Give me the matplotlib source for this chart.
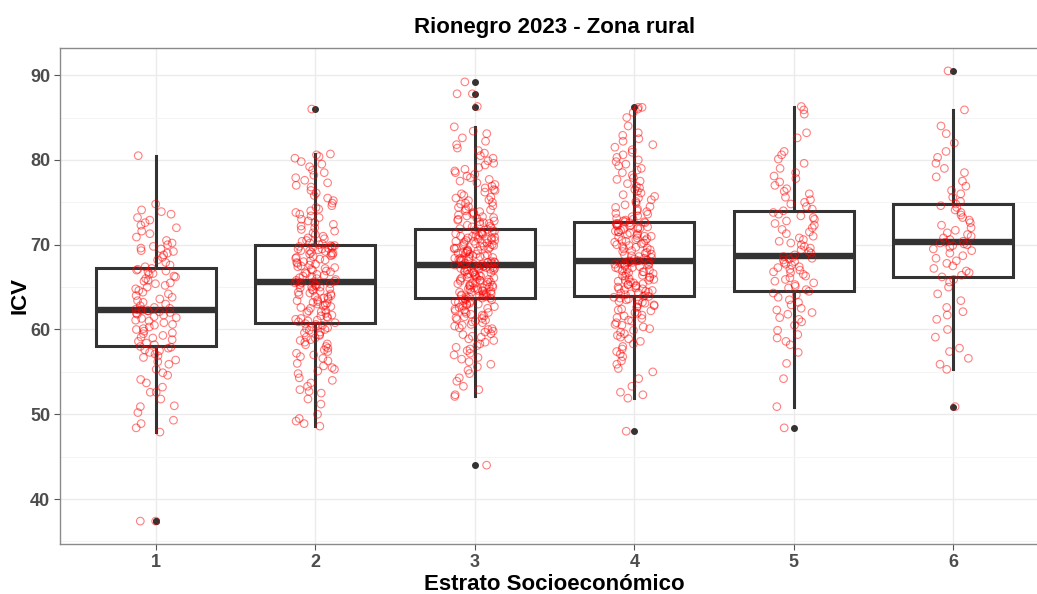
import matplotlib
matplotlib.use("Agg")
import matplotlib.pyplot as plt
import numpy as np
from matplotlib.ticker import MultipleLocator

# Estratos y valores de ICV
estratos = [1, 2, 3, 4, 5, 6]

icv_e1 = [37.4, 37.4, 47.9, 48.4, 48.9, 49.3, 50.2, 50.9, 51.0, 51.8, 52.6, 52.6, 53.2, 53.7, 54.1,
          54.6, 54.9, 55.3, 55.9, 56.2, 56.4, 56.7, 56.9, 57.1, 57.3, 57.5, 57.6, 57.8, 57.9, 58.0,
          58.2, 58.4, 58.6, 58.8, 59.0, 59.1, 59.3, 59.5, 59.6, 59.8, 60.0, 60.1, 60.3, 60.5, 60.6,
          60.8, 61.0, 61.1, 61.3, 61.4, 61.5, 61.7, 61.8, 61.9, 62.0, 62.1, 62.2, 62.2, 62.3, 62.3,
          62.4, 62.5, 62.6, 62.8, 63.0, 63.2, 63.4, 63.6, 63.8, 64.0, 64.2, 64.4, 64.6, 64.8, 65.0,
          65.2, 65.4, 65.5, 65.7, 65.8, 66.0, 66.2, 66.3, 66.5, 66.6, 66.8, 66.9, 67.0, 67.1, 67.2,
          67.4, 67.6, 67.9, 68.2, 68.5, 68.8, 69.0, 69.2, 69.3, 69.5, 69.6, 69.8, 70.0, 70.2, 70.5,
          70.9, 71.3, 71.6, 72.0, 72.3, 72.6, 72.9, 73.2, 73.6, 73.9, 74.1, 74.8, 80.5]

icv_e2 = [48.6, 48.9, 49.2, 49.5, 50.0, 51.2, 51.8, 52.5, 52.7, 52.9, 53.3, 53.7, 54.0, 54.3, 54.8,
          55.1, 55.3, 55.5, 55.7, 56.0, 56.3, 56.6, 56.8, 57.0, 57.2, 57.4, 57.6, 57.8, 58.0, 58.2,
          58.3, 58.5, 58.7, 58.8, 59.0, 59.1, 59.3, 59.4, 59.6, 59.7, 59.9, 60.0, 60.1, 60.2, 60.3,
          60.4, 60.5, 60.6, 60.7, 60.8,
          60.9, 61.0, 61.1, 61.2, 61.3, 61.4, 61.5, 61.6, 61.7, 61.9, 62.0, 62.1, 62.2, 62.3, 62.5,
          62.6, 62.7, 62.8, 62.9, 63.0, 63.1, 63.2, 63.3, 63.4, 63.5, 63.6, 63.7, 63.8, 63.9, 64.0,
          64.1, 64.2, 64.3, 64.4, 64.5, 64.6, 64.7, 64.8, 64.9, 65.0, 65.0, 65.1, 65.2, 65.3, 65.3,
          65.4, 65.5, 65.5, 65.6, 65.6,
          65.7, 65.8, 65.9, 66.0, 66.1, 66.2, 66.3, 66.4, 66.5, 66.6, 66.7, 66.8, 66.9, 67.0, 67.1,
          67.2, 67.3, 67.4, 67.5, 67.6, 67.7, 67.8, 67.9, 68.0, 68.1, 68.2, 68.3, 68.4, 68.5, 68.6,
          68.7, 68.8, 68.9, 69.0, 69.0, 69.1, 69.2, 69.3, 69.3, 69.4, 69.5, 69.5, 69.6, 69.7, 69.7,
          69.8, 69.8, 69.9, 69.9, 70.0,
          70.1, 70.2, 70.4, 70.5, 70.7, 70.8, 71.0, 71.2, 71.4, 71.6, 71.8, 72.0, 72.2, 72.4, 72.6,
          72.8, 73.0, 73.2, 73.4, 73.6, 73.8, 74.0, 74.2, 74.4, 74.6, 74.9, 75.2, 75.5, 75.8, 76.1,
          76.4, 76.8, 77.0, 77.3, 77.6, 77.9, 78.2, 78.5, 78.8, 79.2, 79.5, 79.8, 80.2, 80.4, 80.6,
          80.7, 86.0]

icv_e3 = [44.0, 52.1, 52.3, 52.9, 53.3, 53.9, 54.3, 54.8, 55.2, 55.6, 55.9, 56.2, 56.5, 56.7, 57.0,
          57.2, 57.5, 57.7, 57.9, 58.1, 58.3, 58.5, 58.7, 58.9, 59.1, 59.2, 59.4, 59.5, 59.7, 59.8,
          60.0, 60.1, 60.2, 60.4, 60.5, 60.6, 60.8, 60.9, 61.0, 61.1, 61.2, 61.3, 61.4, 61.5, 61.6,
          61.7, 61.8, 61.9, 62.0, 62.1, 62.2, 62.3, 62.4, 62.5, 62.6, 62.7, 62.8, 62.9, 63.0, 63.0,
          63.1, 63.2, 63.3, 63.3, 63.4, 63.5, 63.5, 63.6, 63.7, 63.7,
          63.8, 63.8, 63.9, 63.9, 64.0, 64.0, 64.1, 64.1, 64.2, 64.2, 64.3, 64.4, 64.4, 64.5, 64.5,
          64.6, 64.6, 64.7, 64.8, 64.8, 64.9, 64.9, 65.0, 65.0, 65.1, 65.2, 65.2, 65.3, 65.3, 65.4,
          65.5, 65.5, 65.6, 65.6, 65.7, 65.8, 65.8, 65.9, 65.9, 66.0, 66.1, 66.1, 66.2, 66.2, 66.3,
          66.4, 66.4, 66.5, 66.5, 66.6, 66.7, 66.7, 66.8, 66.8, 66.9, 67.0, 67.0, 67.1, 67.1, 67.2,
          67.2, 67.3, 67.3, 67.4, 67.4, 67.5, 67.5, 67.5, 67.6, 67.6,
          67.7, 67.7, 67.8, 67.8, 67.9, 67.9, 68.0, 68.0, 68.1, 68.2, 68.2, 68.3, 68.3, 68.4, 68.4,
          68.5, 68.6, 68.6, 68.7, 68.7, 68.8, 68.9, 68.9, 69.0, 69.0, 69.1, 69.2, 69.2, 69.3, 69.3,
          69.4, 69.5, 69.5, 69.6, 69.6, 69.7, 69.8, 69.8, 69.9, 69.9, 70.0, 70.1, 70.1, 70.2, 70.2,
          70.3, 70.4, 70.4, 70.5, 70.5, 70.6, 70.7, 70.7, 70.8, 70.8, 70.9, 71.0, 71.0, 71.1, 71.1,
          71.2, 71.3, 71.3, 71.4, 71.5, 71.5, 71.6, 71.7, 71.8, 71.9,
          72.0, 72.1, 72.2, 72.3, 72.4, 72.5, 72.6, 72.7, 72.8, 72.9, 73.0, 73.1, 73.2, 73.3, 73.4,
          73.5, 73.6, 73.7, 73.8, 73.9, 74.0, 74.1, 74.2, 74.4, 74.5, 74.6, 74.8, 74.9, 75.0, 75.2,
          75.3, 75.5, 75.6, 75.8, 76.0, 76.2, 76.4, 76.5, 76.7, 76.9, 77.1, 77.3, 77.5, 77.7, 77.9,
          78.1, 78.3, 78.5, 78.7, 78.9, 79.1, 79.4, 79.6, 79.9, 80.2, 80.5, 80.8, 81.1, 81.4, 81.8,
          82.2, 82.6, 83.1, 83.4, 83.9, 86.3, 87.8, 87.8, 89.2]

icv_e4 = [48.0, 51.9, 52.3, 52.6, 53.3, 54.2, 55.0, 55.4, 55.9, 56.3, 56.8, 57.1, 57.4, 57.7, 58.0,
          58.3, 58.6, 58.9, 59.1, 59.3, 59.5, 59.7, 59.9, 60.1, 60.3, 60.5, 60.6, 60.8, 61.0, 61.1,
          61.3, 61.4, 61.6, 61.7, 61.9, 62.0, 62.2, 62.3, 62.4, 62.6, 62.7, 62.8, 62.9, 63.0, 63.1,
          63.2, 63.3, 63.4, 63.5, 63.6, 63.7, 63.8, 63.9, 63.9, 64.0,
          64.1, 64.2, 64.3, 64.3, 64.4, 64.5, 64.6, 64.7, 64.8, 64.8, 64.9, 65.0, 65.1, 65.2, 65.3,
          65.3, 65.4, 65.5, 65.6, 65.7, 65.8, 65.8, 65.9, 66.0, 66.1, 66.2, 66.3, 66.3, 66.4, 66.5,
          66.6, 66.7, 66.8, 66.8, 66.9, 67.0, 67.1, 67.2, 67.3, 67.3, 67.4, 67.5, 67.6, 67.6, 67.7,
          67.7, 67.8, 67.8, 67.9, 67.9, 68.0, 68.0, 68.1, 68.1, 68.1,
          68.2, 68.3, 68.4, 68.5, 68.6, 68.7, 68.8, 68.9, 69.0, 69.1, 69.2, 69.3, 69.4, 69.5, 69.6,
          69.7, 69.8, 69.9, 70.0, 70.1, 70.2, 70.3, 70.4, 70.5, 70.5, 70.6, 70.7, 70.8, 70.9, 71.0,
          71.0, 71.1, 71.2, 71.3, 71.4, 71.5, 71.5, 71.6, 71.7, 71.8, 71.9, 71.9, 72.0, 72.1, 72.2,
          72.2, 72.3, 72.3, 72.4, 72.5, 72.5, 72.6, 72.6, 72.7, 72.7,
          72.8, 72.9, 73.0, 73.1, 73.3, 73.4, 73.6, 73.7, 73.9, 74.0, 74.2, 74.4, 74.5, 74.7, 74.9,
          75.1, 75.3, 75.5, 75.7, 75.9, 76.1, 76.3, 76.5, 76.7, 76.9, 77.2, 77.5, 77.7, 77.9, 78.2,
          78.5, 78.8, 79.0, 79.3, 79.5, 79.8, 80.0, 80.3, 80.6, 80.9, 81.2, 81.5, 81.8, 82.2, 82.5,
          82.9, 83.2, 84.0, 85.0, 85.6, 86.0, 86.2, 86.2]

icv_e5 = [48.4, 50.9, 54.2, 56.0, 57.3, 58.2, 58.6, 59.0, 59.4, 59.9, 60.5, 60.9, 61.2, 61.4, 61.8,
          62.0, 62.3, 62.5, 62.9, 63.2, 63.5, 63.8, 64.1, 64.3, 64.5,
          64.7, 64.9, 65.1, 65.3, 65.5, 65.7, 65.9, 66.1, 66.3, 66.5, 66.7, 66.8, 67.0, 67.1, 67.3,
          67.4, 67.6, 67.7, 67.9, 68.0, 68.2, 68.3, 68.4, 68.5, 68.6,
          68.8, 69.0, 69.2, 69.4, 69.6, 69.8, 70.0, 70.2, 70.4, 70.6, 70.8, 71.0, 71.3, 71.5, 71.8,
          72.0, 72.3, 72.5, 72.8, 73.0, 73.2, 73.4, 73.6, 73.8, 74.0,
          74.2, 74.5, 74.8, 75.0, 75.3, 75.6, 76.0, 76.3, 76.6, 77.0, 77.4, 77.8, 78.1, 78.5, 79.0,
          79.6, 80.1, 80.6, 81.0, 82.6, 83.2, 85.4, 85.9, 86.3]

icv_e6 = [50.9, 55.3, 55.9, 56.6, 57.4, 57.8, 59.1, 60.0, 61.2, 61.7, 62.1, 62.6, 63.4, 64.2, 65.0,
          65.6, 65.9, 66.2,
          66.4, 66.7, 66.9, 67.2, 67.5, 67.8, 68.1, 68.4, 68.7, 69.0, 69.3, 69.5, 69.7, 69.9, 70.0,
          70.1, 70.2, 70.3,
          70.4, 70.6, 70.8, 71.0, 71.2, 71.4, 71.7, 72.0, 72.3, 72.6, 72.9, 73.2, 73.5, 73.8, 74.1,
          74.4, 74.6, 74.8,
          75.1, 75.6, 76.0, 76.4, 76.9, 77.5, 78.0, 78.5, 79.0, 79.6, 80.3, 81.0, 82.0, 83.1, 84.0,
          85.9, 90.5]

icv = [icv_e1, icv_e2, icv_e3, icv_e4, icv_e5, icv_e6]

# Estadisticos de las cajas
q1 = [58.0, 60.8, 63.7, 64.0, 64.5, 66.2]
mediana = [62.3, 65.6, 67.6, 68.1, 68.65, 70.35]
q3 = [67.2, 69.95, 71.9, 72.7, 74.0, 74.8]
bigote_inf = [47.9, 48.6, 52.1, 51.9, 50.9, 55.3]
bigote_sup = [80.45, 80.7, 83.9, 86.1, 86.3, 85.9]
atipicos = [[37.4, 37.4], [86.0], [89.2, 87.8, 86.3, 44.0], [86.2, 48.05], [48.4], [90.5, 50.85]]

FONT = ['Liberation Sans Narrow', 'Liberation Sans', 'DejaVu Sans']
W, H = 1037, 594

fig = plt.figure(figsize=(W / 100, H / 100), dpi=100)
ax = fig.add_axes([60 / W, 1 - 544 / H, (1049 - 60) / W, (544 - 48) / H])

stats = []
for i in range(len(estratos)):
    stats.append({'q1': q1[i], 'med': mediana[i], 'q3': q3[i],
                  'whislo': bigote_inf[i], 'whishi': bigote_sup[i],
                  'fliers': atipicos[i]})

dark = '#333333'
ax.bxp(stats, positions=estratos, widths=0.75, showcaps=False, patch_artist=True,
       boxprops=dict(facecolor='white', edgecolor=dark, linewidth=2.2),
       whiskerprops=dict(color=dark, linewidth=2.2),
       medianprops=dict(color=dark, linewidth=4.6, solid_capstyle='butt'),
       flierprops=dict(marker='o', markerfacecolor=dark, markeredgecolor=dark,
                       markersize=4, linestyle='none'),
       zorder=2)

# jitter horizontal (solo posicion, como geom_jitter)
rng = np.random.default_rng(11)
for pos, vals in zip(estratos, icv):
    xs = pos + rng.uniform(-0.13, 0.13, len(vals))
    ax.scatter(xs, vals, s=30, facecolors='none', edgecolors='red', alpha=0.5,
               linewidths=0.8, zorder=3)

ax.set_xlim(0.4, 6.6)
ax.set_ylim(34.7, 93.2)
ax.set_xticks(estratos)
ax.set_xticklabels([str(e) for e in estratos])
ax.yaxis.set_major_locator(MultipleLocator(10))
ax.yaxis.set_minor_locator(MultipleLocator(5))

ax.grid(which='major', color='#ebebeb', linewidth=1.0, zorder=0)
ax.grid(which='minor', axis='y', color='#f4f4f4', linewidth=0.7, zorder=0)
ax.set_axisbelow(True)

for sp in ax.spines.values():
    sp.set_color('#8a8a8a')
    sp.set_linewidth(1.0)

ax.tick_params(axis='both', which='major', length=4, width=0.8, color='#555555',
               labelcolor='#4d4d4d', labelsize=13, pad=3)
ax.tick_params(axis='y', which='minor', length=0)
for lab in ax.get_xticklabels() + ax.get_yticklabels():
    lab.set_fontweight('bold')
    lab.set_family(FONT)

ax.set_xlabel('Estrato Socioeconómico', fontsize=16, fontweight='bold', family=FONT, labelpad=2)
ax.set_ylabel('ICV', fontsize=16, fontweight='bold', family=FONT, labelpad=0)
fig.text(555 / W, 1 - 28 / H, 'Rionegro 2023 - Zona rural', ha='center', va='center',
         fontsize=16, fontweight='bold', family=FONT)

fig.savefig('out.png', dpi=100)
